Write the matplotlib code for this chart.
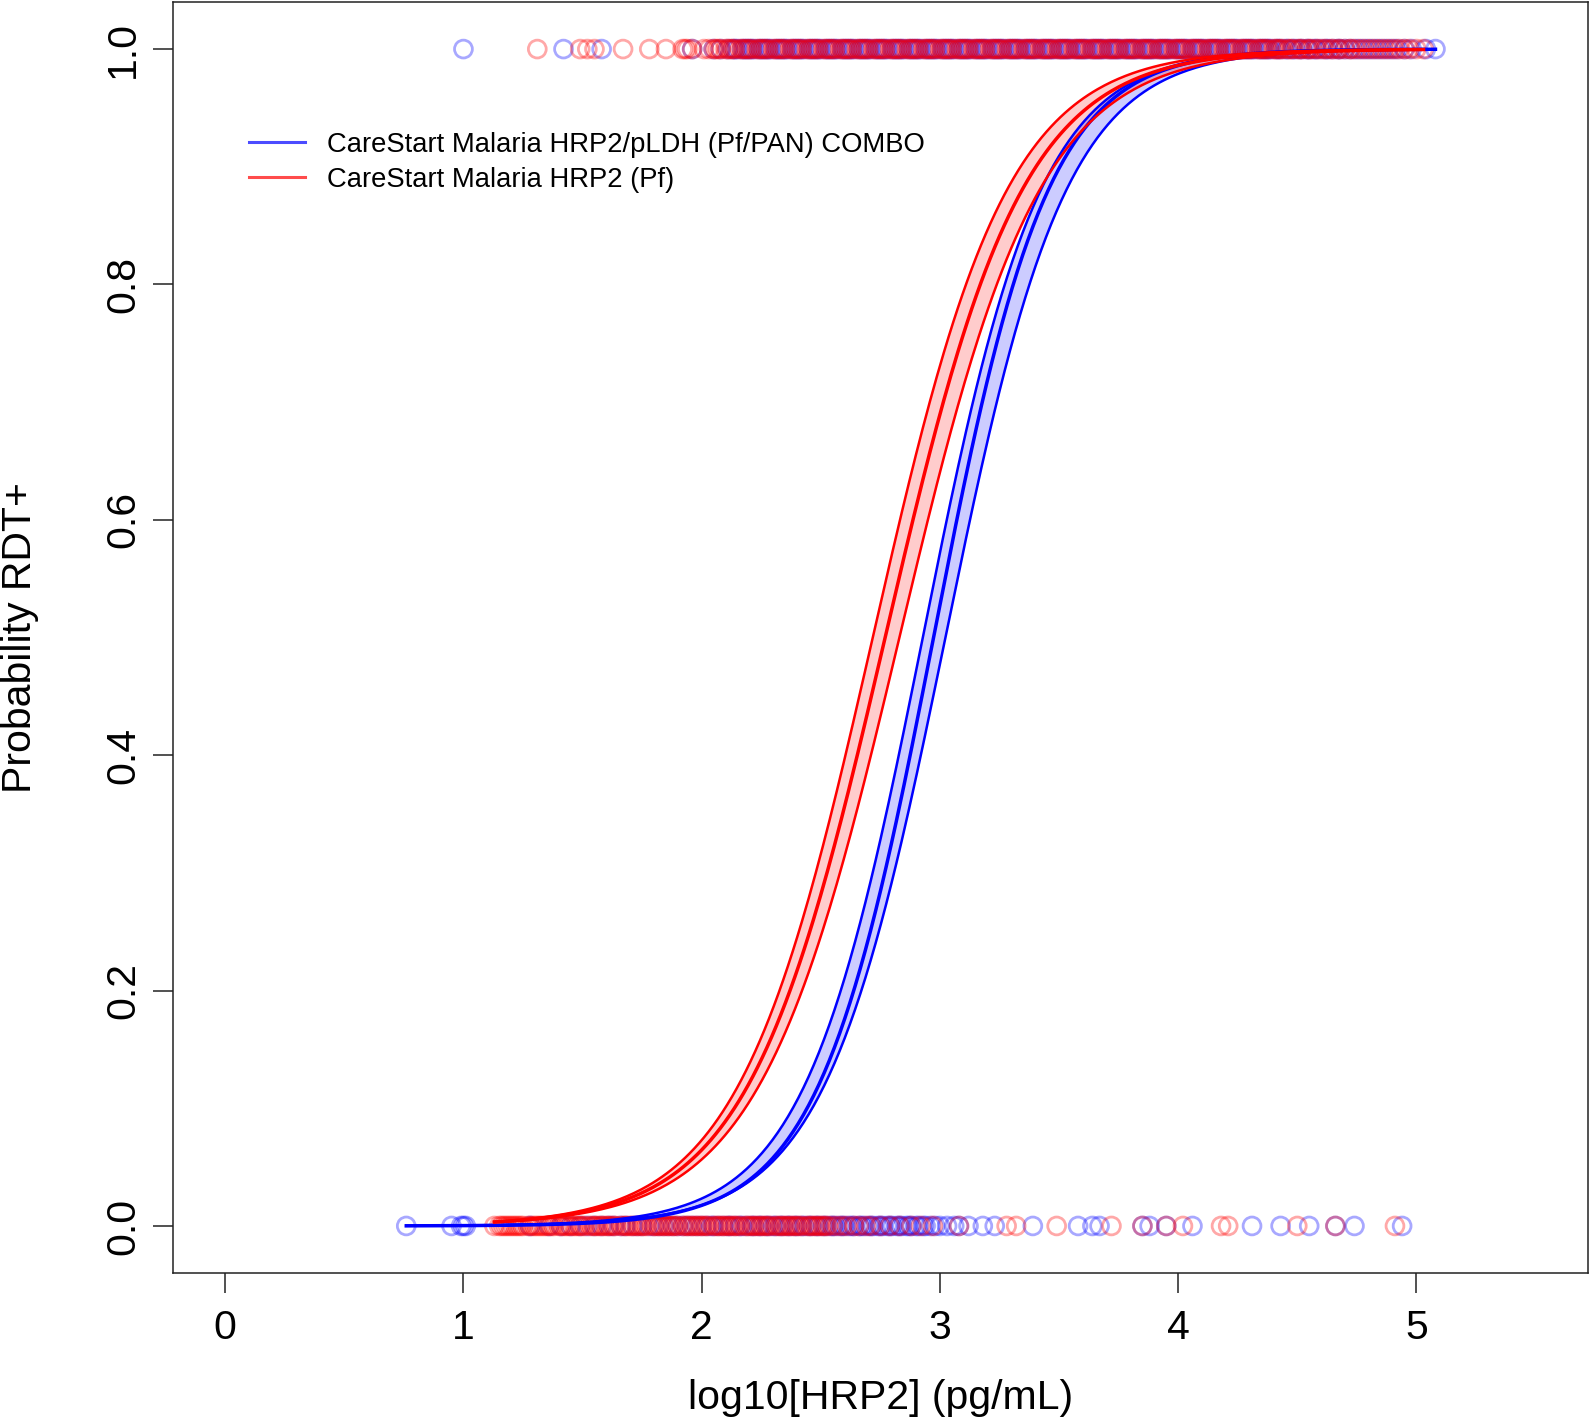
import numpy as np
from matplotlib import pyplot as plt
from matplotlib.lines import Line2D

plt.rcParams['font.family'] = ['Liberation Sans', 'DejaVu Sans']

# log10[HRP2] of samples, in hundredths, split by test and RDT result
blue_pos = [100, 142, 158, 196, 205, 208, 211,
            213, 214, 215, 217, 218, 219, 220, 221, 222, 224,
            225, 226, 227, 228, 229, 231, 232, 233, 234, 235,
            236, 238, 239, 240, 241, 242, 243, 245, 246, 247,
            248, 249, 250, 252, 253, 254, 255, 256, 257, 259,
            260, 261, 262, 263, 264, 266, 267, 268, 269, 270,
            271, 273, 274, 275, 276, 277, 278, 280, 281, 282,
            283, 284, 285, 287, 288, 289, 290, 291, 292, 294,
            295, 296, 297, 298, 299, 301, 302, 303, 304, 305,
            306, 308, 309, 310, 311, 312, 313, 315, 316, 317,
            318, 319, 320, 322, 323, 324, 325, 326, 327, 329,
            330, 331, 332, 333, 334, 336, 337, 338, 339, 340,
            341, 343, 344, 345, 346, 347, 348, 350, 351, 352,
            353, 354, 355, 357, 358, 359, 360, 361, 362, 364,
            365, 366, 367, 368, 369, 371, 372, 373, 374, 375,
            376, 378, 379, 380, 381, 382, 383, 385, 386, 387,
            388, 389, 390, 392, 393, 394, 395, 396, 397, 399,
            400, 401, 402, 403, 404, 406, 407, 408, 409, 410,
            411, 413, 414, 415, 416, 417, 418, 420, 421, 422,
            423, 424, 425, 427, 428, 429, 430, 431, 432, 434,
            435, 436, 437, 438, 439, 441, 442, 443, 445, 446,
            448, 449, 451, 452, 454, 455, 457, 458, 460, 462,
            463, 465, 467, 468, 470, 472, 474, 476, 478, 480,
            482, 484, 486, 488, 490, 492, 495, 498, 504, 508]
blue_neg = [76, 95, 99, 100, 101, 128, 136, 141, 145, 149,
            152, 155, 158, 161, 163, 166, 168, 171, 173, 175,
            178, 180, 182, 184, 186, 188, 190, 192, 194, 196,
            198, 200, 202, 204, 205, 207, 209, 211, 212, 214,
            216, 217, 219, 221, 222, 224, 225, 227, 228, 230,
            231, 233, 234, 236, 237, 239, 240, 242, 243, 245,
            246, 248, 249, 251, 252, 254, 255, 256, 258, 259,
            260, 262, 263, 264, 266, 267, 268, 270, 271, 272,
            274, 275, 276, 278, 279, 280, 282, 283, 284, 286,
            287, 288, 290, 291, 293, 294, 296, 298, 300, 303,
            306, 308, 312, 318, 323, 339, 358, 364, 367, 385,
            388, 395, 406, 431, 443, 455, 466, 474, 494]
red_pos = [131, 149, 152, 155, 167, 178, 185, 192, 193, 194, 196, 201, 203, 205,
           206, 207, 208, 210, 211, 212, 213, 214, 216, 217,
           218, 219, 220, 221, 223, 224, 225, 226, 227, 228,
           230, 231, 232, 233, 234, 235, 237, 238, 239, 240,
           241, 242, 244, 245, 246, 247, 248, 249, 251, 252,
           253, 254, 255, 256, 258, 259, 260, 261, 262, 263,
           265, 266, 267, 268, 269, 270, 272, 273, 274, 275,
           276, 277, 279, 280, 281, 282, 283, 284, 286, 287,
           288, 289, 290, 291, 293, 294, 295, 296, 297, 298,
           300, 301, 302, 303, 304, 305, 307, 308, 309, 310,
           311, 312, 314, 315, 316, 317, 318, 319, 321, 322,
           323, 324, 325, 326, 328, 329, 330, 331, 332, 333,
           335, 336, 337, 338, 339, 340, 342, 343, 344, 345,
           346, 347, 349, 350, 351, 352, 353, 354, 356, 357,
           358, 359, 360, 361, 363, 364, 365, 366, 367, 368,
           370, 371, 372, 373, 374, 375, 377, 378, 379, 380,
           381, 382, 384, 385, 386, 387, 388, 389, 391, 392,
           393, 394, 395, 396, 398, 399, 400, 401, 402, 403,
           405, 406, 407, 408, 409, 410, 412, 413, 414, 415,
           416, 417, 419, 420, 421, 422, 423, 424, 426, 427,
           428, 429, 430, 431, 433, 434, 435, 436, 437, 438,
           440, 441, 442, 443, 444, 446, 447, 448, 450, 451,
           452, 454, 455, 456, 458, 459, 461, 462, 464, 465,
           467, 468, 470, 472, 473, 475, 477, 479, 481, 483,
           485, 487, 489, 491, 493, 495, 497, 500, 503]
red_neg = [113, 115, 116, 117, 118, 119, 120, 121, 122, 123,
           124, 125, 127, 128, 129, 130, 131, 132, 133, 134,
           135, 136, 137, 138, 140, 141, 142, 143, 144, 145,
           146, 147, 148, 149, 150, 151, 153, 154, 155, 156,
           157, 158, 159, 160, 161, 162, 163, 164, 166, 167,
           168, 169, 170, 171, 172, 173, 174, 175, 176, 177,
           179, 180, 181, 182, 183, 184, 185, 186, 187, 188,
           189, 190, 192, 193, 194, 195, 196, 197, 198, 199,
           200, 201, 202, 203, 205, 206, 207, 208, 209, 210,
           211, 212, 213, 214, 215, 216, 218, 219, 220, 221,
           222, 223, 224, 225, 226, 227, 228, 229, 231, 232,
           233, 234, 235, 236, 237, 238, 239, 240, 241, 242,
           244, 245, 246, 247, 248, 249, 250, 251, 252, 253,
           255, 257, 259, 261, 264, 266, 269, 271, 275, 279, 283, 288, 292, 297,
           308, 328, 332, 349, 372, 385, 395, 402, 418, 421, 450, 466, 491]

# fitted logistic curves: (x at p=0.5, slope) for fit, upper and lower CI
blue_fit = [(2.973, 4.141), (2.928, 4.027), (3.023, 3.930)]
red_fit = [(2.770, 3.471), (2.718, 3.542), (2.830, 3.392)]

labels = ['CareStart Malaria HRP2/pLDH (Pf/PAN) COMBO', 'CareStart Malaria HRP2 (Pf)']


def logistic(x, x50, b):
    return 1 / (1 + np.exp(-b * (x - x50)))


fig = plt.figure(figsize=(15.94, 14.2), dpi=100)
ax = fig.add_axes([0.1084, 0.1035, 0.8878, 0.8951])


def draw_group(pos, neg, fit, rgb):
    pos = np.array(pos) / 100
    neg = np.array(neg) / 100
    for xs, y in [(pos, 1), (neg, 0)]:
        ax.scatter(xs, np.full(len(xs), y), s=165, facecolors='none',
                   edgecolors=[rgb + (0.34,)], linewidths=2.0)
    xg = np.linspace(min(pos.min(), neg.min()), max(pos.max(), neg.max()), 400)
    mid = logistic(xg, *fit[0])
    hi = logistic(xg, *fit[1])
    lo = logistic(xg, *fit[2])
    ax.fill_between(xg, lo, hi, color=rgb, alpha=0.2, linewidth=0)
    ax.plot(xg, hi, color=rgb, lw=1.8)
    ax.plot(xg, lo, color=rgb, lw=1.8)
    ax.plot(xg, mid, color=rgb, lw=2.5)


draw_group(blue_pos, blue_neg, blue_fit, (0, 0, 1))
draw_group(red_pos, red_neg, red_fit, (1, 0, 0))

ax.set_xlim(-0.22, 5.72)
ax.set_ylim(-0.04, 1.04)
ax.set_xticks([0, 1, 2, 3, 4, 5])
ax.set_yticks([0, 0.2, 0.4, 0.6, 0.8, 1.0])
ax.set_yticklabels(['0.0', '0.2', '0.4', '0.6', '0.8', '1.0'], rotation=90, va='center')
ax.tick_params(axis='both', length=14.6, width=1.1, labelsize=29.5, color='#222222')
ax.tick_params(axis='x', pad=11.6)
ax.tick_params(axis='y', pad=7.3)
for sp in ax.spines.values():
    sp.set_linewidth(1.1)
    sp.set_color('#222222')

ax.text(0.5, -0.0983, 'log10[HRP2] (pg/mL)', transform=ax.transAxes,
        ha='center', va='center', fontsize=29.5)
ax.text(-0.108, 0.5, 'Probability RDT+', transform=ax.transAxes,
        ha='center', va='center', rotation=90, fontsize=29.5)

handles = [Line2D([], [], color=(0, 0, 1, 0.7), lw=2.2),
           Line2D([], [], color=(1, 0, 0, 0.7), lw=2.2)]
ax.legend(handles, labels, loc='upper left', bbox_to_anchor=(0.0538, 0.898),
          frameon=False, fontsize=19.7, handlelength=2.05, handletextpad=0.8,
          labelspacing=0.34, borderpad=0, borderaxespad=0)

fig.savefig('out.png', dpi=100)
